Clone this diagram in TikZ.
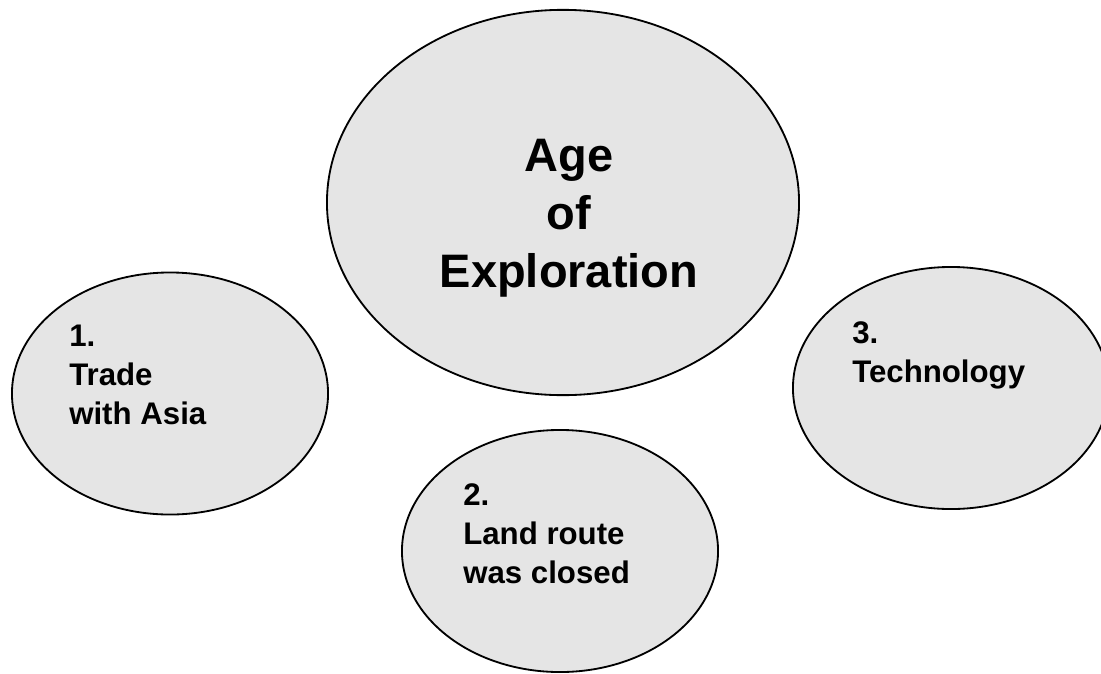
\documentclass[tikz,border=0pt]{standalone}
\usepackage{fontspec}
\setmainfont{Liberation Sans}
\usetikzlibrary{shapes.geometric, positioning}

\begin{document}
\begin{tikzpicture}[
        x=0.025cm, y=-0.025cm,
        bubble/.style={ellipse, draw, line width=1.3pt, fill=gray!20, inner sep=0pt, minimum width=7.9cm, minimum height=6.05cm},
        topic/.style={bubble, minimum width=11.8cm, minimum height=9.63cm},
        cause/.style={inner sep=0pt, anchor=base west, align=left, font=\bfseries\fontsize{22.2}{27.7}\selectfont},
        heading/.style={inner sep=0pt, anchor=base, align=center, font=\bfseries\fontsize{33.4}{41}\selectfont}
    ]
    \useasboundingbox (0,0) rectangle (1101,673);

    % Main topic
    \node[topic] (age) at (563,202.5) {};
    \node[heading] (agetext) at (569,287) {Age\\of\\Exploration};

    % Causes
    \node[bubble] (trade) at (170,393.5) {};
    \node[bubble] (route) at (560,551) {};
    \node[bubble] (tech) at (951,388) {};

    \node[cause] (tradetext) at (69,424) {1.\\Trade\\with Asia};
    \node[cause] (routetext) at (463,583) {2.\\Land route\\was closed};
    \node[cause] (techtext) at (852,382) {3.\\Technology};

\end{tikzpicture}
\end{document}
